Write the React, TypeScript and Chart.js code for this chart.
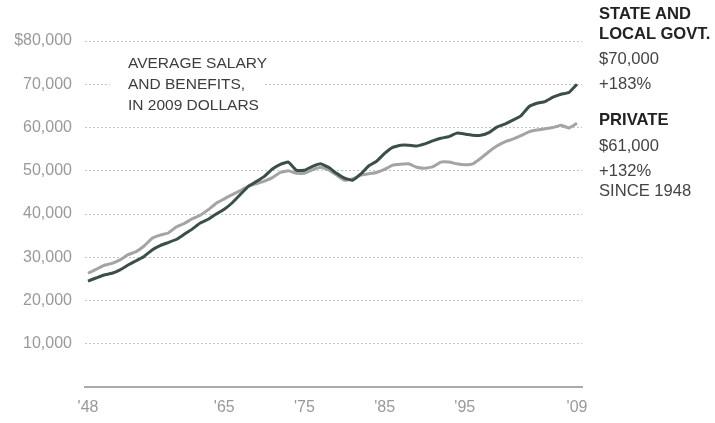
import React, { useEffect, useRef } from 'react';
import { Chart, registerables } from 'chart.js';

Chart.register(...registerables);

// Years 1948..2009 (one point per year)
const years: number[] = Array.from({ length: 62 }, (_, i) => 1948 + i);

// Average salary and benefits, in 2009 dollars
const stateLocal: number[] = [
  24500, 25200, 25900, 26300, 27100, 28200, 29200, 30200, 31700, 32700,
  33400, 34100, 35300, 36500, 37900, 38800, 40000, 41100, 42600, 44500,
  46400, 47500, 48700, 50400, 51500, 52000, 50100, 50100, 51000, 51600,
  50800, 49400, 48300, 47800, 49200, 51100, 52200, 54000, 55400, 55900,
  55900, 55700, 56200, 56900, 57500, 57900, 58700, 58500, 58200, 58200,
  58800, 60100, 60800, 61700, 62700, 64800, 65600, 66000, 67000, 67700,
  68100, 70000,
];

const privateSector: number[] = [
  26300, 27200, 28100, 28600, 29400, 30600, 31300, 32600, 34400, 35100,
  35600, 37000, 37800, 38900, 39700, 41000, 42500, 43500, 44500, 45400,
  46400, 47000, 47600, 48400, 49600, 50000, 49400, 49400, 50200, 50800,
  50200, 49000, 47800, 48100, 49000, 49300, 49600, 50300, 51300, 51500,
  51600, 50800, 50600, 50900, 52000, 52000, 51600, 51400, 51600, 52900,
  54400, 55700, 56700, 57300, 58100, 59000, 59400, 59700, 60000, 60500,
  59900, 61000,
];

const xTickYears: number[] = [1948, 1965, 1975, 1985, 1995, 2009];
const yTickValues: number[] = [0, 10000, 20000, 30000, 40000, 50000, 60000, 70000, 80000];

const annotationLines: string[] = ['AVERAGE SALARY', 'AND BENEFITS,', 'IN 2009 DOLLARS'];

const FONT = "Arial, 'Liberation Sans', Helvetica, sans-serif";

const rightLabels: { text: string; bold: boolean; cy: number }[] = [
  { text: 'STATE AND', bold: true, cy: 14 },
  { text: 'LOCAL GOVT.', bold: true, cy: 34 },
  { text: '$70,000', bold: false, cy: 59 },
  { text: '+183%', bold: false, cy: 84 },
  { text: 'PRIVATE', bold: true, cy: 120 },
  { text: '$61,000', bold: false, cy: 146 },
  { text: '+132%', bold: false, cy: 171 },
  { text: 'SINCE 1948', bold: false, cy: 191 },
];

export default function App() {
  const canvasRef = useRef<HTMLCanvasElement | null>(null);

  useEffect(() => {
    if (!canvasRef.current) return;
    const chart = new Chart(canvasRef.current, {
      type: 'line',
      data: {
        datasets: [
          {
            label: 'State and local govt.',
            data: years.map((yr, i) => ({ x: yr, y: stateLocal[i] })),
            borderColor: '#3b4e49',
            borderWidth: 3,
            pointRadius: 0,
            tension: 0.1,
          },
          {
            label: 'Private',
            data: years.map((yr, i) => ({ x: yr, y: privateSector[i] })),
            borderColor: '#a4a4a4',
            borderWidth: 3,
            pointRadius: 0,
            tension: 0.1,
          },
        ],
      },
      options: {
        animation: false,
        responsive: false,
        maintainAspectRatio: false,
        layout: { padding: { left: 0, right: 133, top: 41, bottom: 0 } },
        plugins: { legend: { display: false }, tooltip: { enabled: false } },
        scales: {
          x: {
            type: 'linear',
            min: 1947.626,
            max: 2009.624,
            afterBuildTicks: (s: any) => {
              s.ticks = xTickYears.map((v) => ({ value: v }));
            },
            afterFit: (s: any) => {
              s.height = 36;
            },
            ticks: {
              autoSkip: false,
              maxRotation: 0,
              padding: 11,
              color: '#999',
              font: { size: 16, family: FONT },
              callback: (v: any) => "'" + String(v).slice(2),
            },
            grid: { display: false, drawTicks: false },
            border: { display: true, color: '#aaa', width: 2 },
          },
          y: {
            type: 'linear',
            min: 0,
            max: 80000,
            afterBuildTicks: (s: any) => {
              s.ticks = yTickValues.map((v) => ({ value: v }));
            },
            afterFit: (s: any) => {
              s.width = 85;
            },
            ticks: {
              padding: 13,
              color: '#999',
              font: { size: 16, family: FONT },
              callback: (v: any) =>
                v === 0 ? '' : (v === 80000 ? '$' : '') + Number(v).toLocaleString('en-US'),
            },
            grid: {
              drawTicks: false,
              lineWidth: 1,
              color: (ctx: any) =>
                ctx.tick && ctx.tick.value === 0 ? 'rgba(0,0,0,0)' : '#c4c4c4',
            },
            border: { display: false, dash: [2, 2] },
          },
        },
      },
    });
    return () => chart.destroy();
  }, []);

  return (
    <div
      style={{
        position: 'fixed',
        left: 0,
        top: 0,
        width: 715,
        height: 423,
        background: '#fff',
        fontFamily: FONT,
      }}
    >
      <canvas ref={canvasRef} width={715} height={423} style={{ position: 'absolute', left: 0, top: 0 }} />
      <div
        style={{
          position: 'absolute',
          left: 110,
          top: 50,
          width: 155,
          height: 64,
          paddingTop: 2,
          paddingLeft: 18,
          boxSizing: 'border-box',
          background: '#fff',
          color: '#3d3d3d',
          fontSize: 15.5,
          lineHeight: '21px',
          whiteSpace: 'nowrap',
        }}
      >
        {annotationLines.map((t) => (
          <div key={t}>{t}</div>
        ))}
      </div>
      {rightLabels.map((l) => (
        <div
          key={l.text}
          style={{
            position: 'absolute',
            left: 599,
            top: l.cy - 10,
            height: 20,
            lineHeight: '20px',
            fontSize: 16.6,
            fontWeight: l.bold ? 'bold' : 'normal',
            color: l.bold ? '#222' : '#444',
            whiteSpace: 'nowrap',
          }}
        >
          {l.text}
        </div>
      ))}
    </div>
  );
}
